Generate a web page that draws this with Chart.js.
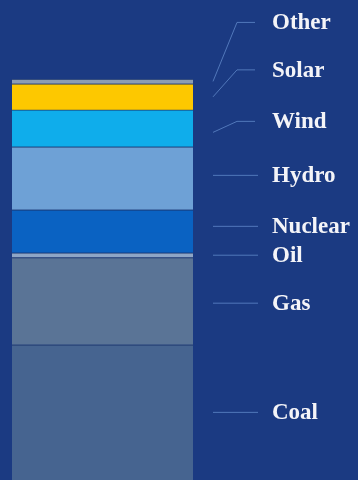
<!DOCTYPE html>
<html>
<head>
<meta charset="utf-8">
<script src="https://cdn.jsdelivr.net/npm/chart.js@4"></script>
<style>
  html, body { margin: 0; padding: 0; background: #1b3a82; }
  canvas { display: block; }
</style>
</head>
<body>
<canvas id="mix" width="358" height="480"></canvas>
<script>
// data (share of generation, %)
const categories = ['Mix'];
const sources = ['Coal', 'Gas', 'Oil', 'Nuclear', 'Hydro', 'Wind', 'Solar', 'Other'];
const shares = [33.7, 21.7, 1.2, 10.7, 15.7, 9.2, 6.5, 1.2];

// styles
const colors = ['#466490', '#5a7496', '#8ea6c6', '#0a62c2', '#6ea1d6', '#0fadeb', '#fdc800', '#8c9db4'];
// vertical shift of each label from its segment centre, and whether the leader bends
const labelShift = [0, 2, 0, -5, -3, -7, -27, -59];
const bent = [false, false, false, false, false, true, true, true];

const bgPlugin = {
    id: 'bg',
    beforeDraw(chart) {
        const ctx = chart.ctx;
        ctx.save();
        ctx.fillStyle = '#1b3a82';
        ctx.fillRect(0, 0, chart.width, chart.height);
        ctx.restore();
    }
};

const labelPlugin = {
    id: 'leaders',
    afterDatasetsDraw(chart) {
        const ctx = chart.ctx;
        ctx.save();
        ctx.strokeStyle = 'rgba(95,135,200,0.8)';
        ctx.lineWidth = 1;
        ctx.fillStyle = '#f4f4f8';
        ctx.font = 'bold 23px "Liberation Serif", serif';
        ctx.textBaseline = 'middle';
        chart.data.datasets.forEach((ds, i) => {
            const bar = chart.getDatasetMeta(i).data[0];
            const yc = (bar.y + bar.base) / 2;
            const ly = yc + labelShift[i];
            const x0 = bar.x + bar.width / 2 + 20;
            ctx.beginPath();
            if (bent[i]) {
                ctx.moveTo(x0, yc + (i === 5 ? 4 : 0));
                ctx.lineTo(x0 + 24, ly);
                ctx.lineTo(x0 + 42, ly);
            } else {
                ctx.moveTo(x0, ly);
                ctx.lineTo(x0 + 45, ly);
            }
            ctx.stroke();
            ctx.fillText(ds.label, x0 + 59, ly + 1);
        });
        ctx.restore();
    }
};

new Chart(document.getElementById('mix'), {
    type: 'bar',
    data: {
        labels: categories,
        datasets: sources.map((s, i) => ({
            label: s,
            data: [shares[i]],
            backgroundColor: colors[i],
            borderColor: 'rgba(25,50,100,0.8)',
            borderWidth: { top: 1, bottom: 0, left: 0, right: 0 },
            borderSkipped: false,
            barPercentage: 1,
            categoryPercentage: 1
        }))
    },
    options: {
        responsive: false,
        animation: false,
        layout: {
            padding: { left: 12, right: 165, top: 79, bottom: 0 }
        },
        plugins: {
            legend: { display: false },
            tooltip: { enabled: false }
        },
        scales: {
            x: { stacked: true, display: false },
            y: {
                stacked: true,
                display: false,
                min: 0,
                max: shares.reduce((a, b) => a + b, 0)
            }
        }
    },
    plugins: [bgPlugin, labelPlugin]
});
</script>
</body>
</html>
